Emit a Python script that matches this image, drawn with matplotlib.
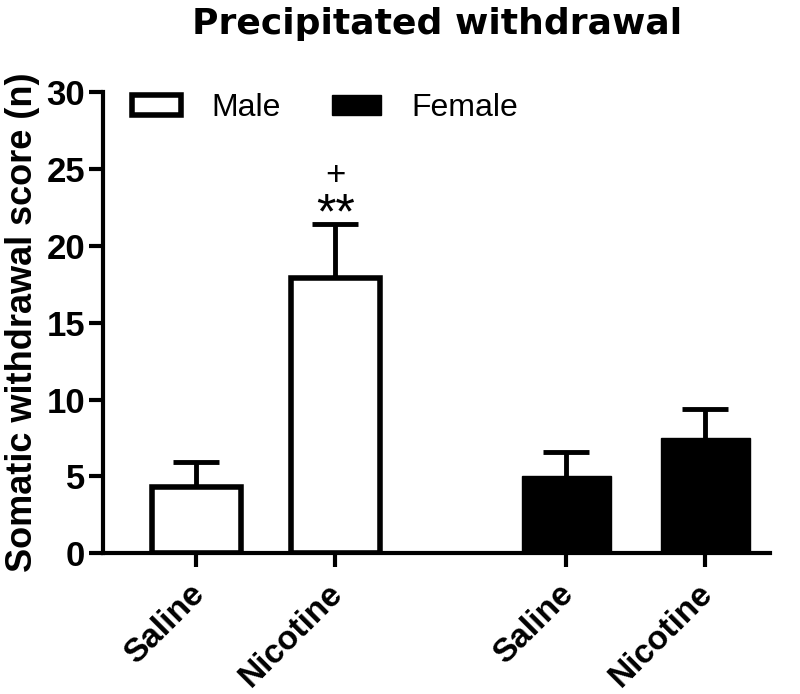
import matplotlib
matplotlib.use('Agg')
import matplotlib.pyplot as plt
import matplotlib.transforms as mtrans
import numpy as np

plt.rcParams['font.family'] = ['Liberation Sans', 'DejaVu Sans']

# data
groups = ['Male', 'Female']
treatments = ['Saline', 'Nicotine']
male_mean = [4.3, 17.9]
male_sem = [1.6, 3.5]
female_mean = [5.0, 7.5]
female_sem = [1.6, 1.9]

pos_male = np.array([0.0, 1.0])
pos_female = np.array([2.66, 3.66])

fig = plt.figure(figsize=(8, 6.94), dpi=100)
ax = fig.add_axes([0.129, 0.203, 0.834, 0.664])

w = 0.64
cap = 0.165


def err_up(x, m, e):
    # upper-only error bar, drawn under the bars
    top = np.array(m) + np.array(e)
    ax.vlines(x, m, top, color='black', linewidth=3.5, zorder=1)
    ax.hlines(top, x - cap, x + cap, color='black', linewidth=3.5, zorder=1)


ax.bar(pos_male, male_mean, width=w, color='white', edgecolor='black',
       linewidth=4, label=groups[0], zorder=2)
err_up(pos_male, male_mean, male_sem)
ax.bar(pos_female, female_mean, width=w, color='black', edgecolor='black',
       linewidth=1, label=groups[1], zorder=2)
err_up(pos_female, female_mean, female_sem)

# significance marks
ax.text(pos_male[1], male_mean[1] + male_sem[1] - 0.9, '**', ha='center',
        va='bottom', fontsize=36)
ax.text(pos_male[1], male_mean[1] + male_sem[1] + 2.1, '+', ha='center',
        va='bottom', fontsize=25)

ax.set_xlim(-0.67, 4.13)
ax.set_ylim(0, 30)
ax.set_yticks([0, 5, 10, 15, 20, 25, 30])
ax.set_xticks(list(pos_male) + list(pos_female))

for s in ['top', 'right']:
    ax.spines[s].set_visible(False)
for s in ['left', 'bottom']:
    ax.spines[s].set_linewidth(3)
ax.tick_params(width=3, length=10)
ax.tick_params(axis='y', pad=3)
ax.tick_params(axis='x', pad=8)

ax.set_xticklabels(treatments + treatments, rotation=45, ha='right',
                   rotation_mode='anchor', fontweight='bold', fontsize=24)
# nudge the rotated labels a little to the left
shift = mtrans.ScaledTranslation(-8 / 100, 0, fig.dpi_scale_trans)
for lab in ax.get_xticklabels():
    lab.set_transform(lab.get_transform() + shift)
for lab in ax.get_yticklabels():
    lab.set_fontweight('bold')
    lab.set_fontsize(25)

ax.set_ylabel('Somatic withdrawal score (n)', fontsize=26, fontweight='bold',
              labelpad=5)
ax.set_title('Precipitated withdrawal', fontsize=26, fontweight='bold', pad=42,
             family=['DejaVu Sans'])

leg = ax.legend(loc='upper left', ncol=2, frameon=False, fontsize=23,
                handlelength=1.53, handleheight=0.6, handletextpad=0.95,
                columnspacing=1.6, bbox_to_anchor=(0.0, 1.06))

fig.savefig('out.png', dpi=100)
